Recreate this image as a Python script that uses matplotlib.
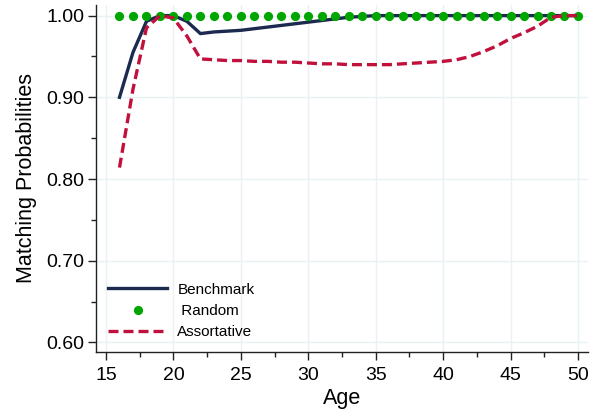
import numpy as np
import matplotlib
matplotlib.use("Agg")
import matplotlib.pyplot as plt
from matplotlib.ticker import MultipleLocator, FormatStrFormatter

plt.rcParams['font.family'] = ['Liberation Sans', 'DejaVu Sans']

age = list(range(16, 51))

benchmark = [0.900, 0.955, 0.993, 1.000, 1.000, 0.993, 0.978, 0.980, 0.981,
             0.982, 0.984, 0.986, 0.988, 0.990, 0.992, 0.994, 0.996, 0.998,
             0.999] + [1.000] * 16

random_match = [1.000] * 35

assortative = [0.814, 0.910, 0.985, 1.000, 0.997, 0.975, 0.947, 0.946, 0.945,
               0.945, 0.944, 0.944, 0.943, 0.943, 0.942, 0.941, 0.941, 0.940,
               0.940, 0.940, 0.940, 0.941, 0.942, 0.943, 0.944, 0.946, 0.950,
               0.956, 0.963, 0.972, 0.979, 0.987, 0.998, 1.000, 1.000]

fig = plt.figure(figsize=(6.04, 4.16), dpi=100)
ax = fig.add_axes([0.159, 0.154, 0.814, 0.834])

ax.plot(age, benchmark, color="#1b2a4e", lw=2.4, label="Benchmark", zorder=3)
ax.plot(age, random_match, linestyle="none", marker="o", ms=5.6,
        color="#00a600", label=" Random", zorder=4)
ax.plot(age, assortative, color="#c2103c", lw=2.4, dashes=(3, 1.5),
        label="Assortative", zorder=5)

ax.set_xlim(14.26, 50.72)
ax.set_ylim(0.5884, 1.013)

ax.xaxis.set_major_locator(MultipleLocator(5))
ax.xaxis.set_minor_locator(MultipleLocator(2.5))
ax.yaxis.set_major_locator(MultipleLocator(0.1))
ax.yaxis.set_minor_locator(MultipleLocator(0.05))
ax.yaxis.set_major_formatter(FormatStrFormatter("%.2f"))

ax.grid(True, which="major", color="#e8f1f3", lw=1.0, zorder=0)
ax.set_axisbelow(True)

for s in ["top", "right"]:
    ax.spines[s].set_visible(False)
for s in ["left", "bottom"]:
    ax.spines[s].set_linewidth(1.0)
    ax.spines[s].set_color("#222222")

ax.tick_params(which="major", length=5.5, width=1, labelsize=14, color="#222222", pad=3)
ax.tick_params(axis="x", which="major", pad=5)
ax.tick_params(which="minor", length=3.5, width=1, color="#222222")

ax.set_xlabel("Age", fontsize=15.5, labelpad=3)
ax.set_ylabel("Matching Probabilities", fontsize=15.5, labelpad=7)

ax.legend(loc="lower left", bbox_to_anchor=(0.024, 0.036), frameon=False,
          fontsize=11, handlelength=3.9, handletextpad=0.65, labelspacing=0.48,
          borderpad=0, borderaxespad=0)

fig.savefig("out.png", dpi=100)
